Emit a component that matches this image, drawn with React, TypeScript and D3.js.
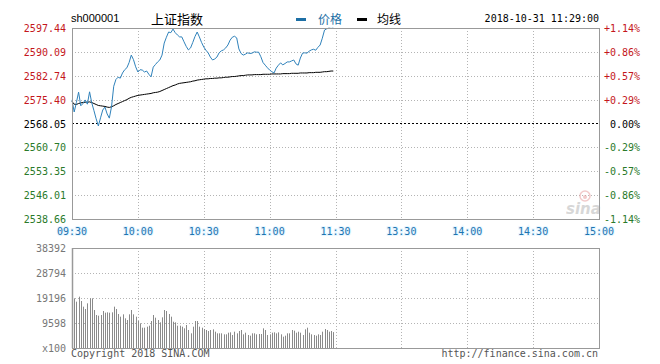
import React from 'react'
import * as d3 from 'd3'

// minute-by-minute data, 09:30 .. 11:29
const prices = [
	2575.3, 2571.6, 2574.5, 2577.7, 2573.5, 2574.2, 2575.3, 2574.0, 2577.8, 2574.4,
	2572.0, 2569.5, 2567.3, 2569.8, 2572.2, 2573.1, 2571.0, 2569.7, 2573.2, 2579.5,
	2581.6, 2582.3, 2582.0, 2583.6, 2584.6, 2585.2, 2586.8, 2589.1, 2587.7, 2585.5,
	2583.9, 2584.6, 2584.5, 2583.9, 2584.2, 2583.2, 2582.4, 2585.4, 2586.2, 2587.0,
	2587.6, 2589.1, 2592.8, 2594.6, 2596.2, 2596.0, 2597.1, 2596.0, 2595.3, 2594.7,
	2594.7, 2593.2, 2591.8, 2590.7, 2591.3, 2593.0, 2594.8, 2596.2, 2594.7, 2593.0,
	2591.6, 2590.6, 2589.8, 2588.5, 2587.6, 2587.9, 2588.5, 2589.8, 2590.4, 2590.7,
	2591.3, 2592.2, 2593.7, 2594.6, 2594.9, 2594.4, 2591.0, 2589.6, 2589.1, 2589.4,
	2589.8, 2589.6, 2589.7, 2590.1, 2590.0, 2590.0, 2588.6, 2586.8, 2586.0, 2585.2,
	2584.5, 2584.0, 2583.6, 2585.1, 2586.0, 2586.7, 2586.1, 2586.5, 2587.0, 2587.0,
	2587.3, 2587.6, 2586.4, 2586.0, 2588.2, 2589.7, 2589.8, 2589.7, 2590.3, 2590.7,
	2590.9, 2590.6, 2591.5, 2592.2, 2594.3, 2596.8, 2597.2, 2597.4, 2597.3, 2597.4,
]

const avgPrices = [
	2574.8, 2574.0, 2573.9, 2574.2, 2574.4, 2574.5, 2574.6, 2574.6, 2574.7, 2574.5,
	2574.2, 2573.9, 2573.6, 2573.5, 2573.4, 2573.3, 2573.1, 2573.0, 2573.2, 2573.5,
	2573.9, 2574.2, 2574.5, 2574.8, 2575.1, 2575.4, 2575.8, 2576.1, 2576.3, 2576.5,
	2576.7, 2576.8, 2576.9, 2577.0, 2577.1, 2577.2, 2577.3, 2577.5, 2577.6, 2577.7,
	2577.9, 2578.2, 2578.5, 2578.8, 2579.1, 2579.4, 2579.7, 2579.9, 2580.2, 2580.4,
	2580.5, 2580.6, 2580.7, 2580.8, 2580.9, 2581.1, 2581.2, 2581.4, 2581.5, 2581.6,
	2581.7, 2581.8, 2581.8, 2581.9, 2581.9, 2582.0, 2582.0, 2582.1, 2582.1, 2582.2,
	2582.3, 2582.3, 2582.4, 2582.5, 2582.5, 2582.6, 2582.7, 2582.8, 2582.8, 2582.9,
	2583.0, 2583.0, 2583.0, 2583.1, 2583.1, 2583.1, 2583.1, 2583.2, 2583.2, 2583.2,
	2583.2, 2583.3, 2583.3, 2583.3, 2583.3, 2583.3, 2583.4, 2583.4, 2583.4, 2583.4,
	2583.5, 2583.5, 2583.5, 2583.5, 2583.6, 2583.6, 2583.6, 2583.6, 2583.7, 2583.7,
	2583.7, 2583.8, 2583.8, 2583.8, 2583.9, 2584.0, 2584.0, 2584.1, 2584.2, 2584.2,
]

// volume, in units of 100 shares
const volumes = [
	21883, 19067, 17787, 19707, 18043, 15867, 14971, 17147, 19067, 19067,
	14587, 12667, 12411, 12667, 14203, 13563, 13691, 13563, 13691, 15867,
	14971, 13051, 12027, 12923, 11387, 10747, 12923, 14587, 12923, 12027,
	10363, 9467, 7803, 7803, 8187, 8571, 10363, 12667, 11643, 10747,
	9851, 11771, 14587, 14203, 13051, 12027, 10107, 9851, 8571, 8571,
	8187, 7547, 8827, 6907, 5627, 8187, 10363, 10363, 8187, 7803,
	7291, 6907, 6523, 6907, 7163, 6267, 5627, 5627, 5627, 5243,
	5243, 5883, 6011, 4987, 6267, 5627, 6523, 6907, 5243, 5883,
	4987, 4731, 5627, 5627, 5243, 5371, 5371, 7547, 6907, 4987,
	5243, 5883, 6011, 5627, 6011, 5243, 4347, 4731, 5627, 5627,
	6907, 6651, 5883, 6267, 5883, 4987, 7163, 7803, 5883, 5243,
	4987, 4731, 5243, 4987, 6267, 7291, 6907, 6267, 6523, 6100,
]

const prevClose = 2568.05
const priceTicks = [2597.44, 2590.09, 2582.74, 2575.40, 2568.05, 2560.70, 2553.35, 2546.01, 2538.66]
const pctTicks = ['+1.14%', '+0.86%', '+0.57%', '+0.29%', '0.00%', '-0.29%', '-0.57%', '-0.86%', '-1.14%']
const timeTicks = ['09:30', '10:00', '10:30', '11:00', '11:30', '13:30', '14:00', '14:30', '15:00']
const volTicks = [38392, 28794, 19196, 9598, 0]
const volTickLabels = ['38392', '28794', '19196', '9598', 'x100']

const mono = '"DejaVu Sans Mono", "Liberation Mono", monospace'
const gridColor = '#b4b4b4'
const frameColor = '#999999'

export default function App() {
	const left = 72
	const right = 599
	const top = 28
	const bottom = 219
	const vTop = 248
	const vBottom = 348

	const x = d3.scaleLinear().domain([0, 240]).range([left, right])
	const y = d3.scaleLinear().domain([2538.66, 2597.44]).range([bottom, top])
	const yv = d3.scaleLinear().domain([0, 38392]).range([vBottom, vTop])

	const priceLine = d3.line<number>()
		.x((_, i) => x(i))
		.y(d => y(d))
	const snap = (v: number) => Math.round(v) + 0.5

	return (
		<svg width={660} height={364} style={{ position: 'absolute', left: 0, top: 0, background: '#fff' }}>
			{/* header */}
			<text x={71} y={22} fontFamily='"Liberation Sans", Arial, sans-serif' fontSize={11} fill="#000">sh000001</text>
			<text x={151} y={24} fontFamily='"Noto Sans CJK SC", sans-serif' fontSize={13} fill="#000">上证指数</text>
			<rect x={296} y={18} width={10} height={3} fill="#1d6fa5" />
			<text x={318} y={24} fontFamily='"Noto Sans CJK SC", sans-serif' fontSize={12} fill="#1d6fa5">价格</text>
			<rect x={357} y={18} width={10} height={3} fill="#000" />
			<text x={377} y={24} fontFamily='"Noto Sans CJK SC", sans-serif' fontSize={12} fill="#000">均线</text>
			<text x={599} y={22} textAnchor="end" fontFamily={mono} fontSize={10} fill="#000">2018-10-31 11:29:00</text>

			{/* price grid */}
			{priceTicks.map((p, i) => (
				i > 0 && i < priceTicks.length - 1 && i !== 4 ? (
					<line key={'h' + i} x1={left} x2={right} y1={snap(y(p))} y2={snap(y(p))}
						stroke={gridColor} strokeDasharray="1,2" />
				) : null
			))}
			{timeTicks.map((_, i) => (
				i > 0 && i < timeTicks.length - 1 ? (
					<g key={'v' + i}>
						<line x1={snap(x(i * 30))} x2={snap(x(i * 30))} y1={top} y2={bottom}
							stroke={gridColor} strokeDasharray="1,2" />
						<line x1={snap(x(i * 30))} x2={snap(x(i * 30))} y1={vTop} y2={vBottom}
							stroke={gridColor} strokeDasharray="1,2" />
					</g>
				) : null
			))}
			<line x1={left} x2={right} y1={snap(y(prevClose))} y2={snap(y(prevClose))}
				stroke="#000" strokeDasharray="2,2" />

			{/* watermark */}
			<g opacity={0.55}>
				<circle cx={585} cy={196} r={5} fill="none" stroke="#e8a0a0" strokeWidth={1.5} />
				<circle cx={585} cy={197} r={2} fill="#e8a0a0" />
				<text x={566} y={214} fontFamily='"DejaVu Sans", sans-serif' fontStyle="italic" fontWeight="bold"
					fontSize={15} fill="#b8b8b8">sina</text>
			</g>

			{/* lines */}
			<path d={priceLine(avgPrices) || ''} fill="none" stroke="#000" strokeWidth={1} />
			<path d={priceLine(prices) || ''} fill="none" stroke="#2f82bb" strokeWidth={1} />

			<rect x={left + 0.5} y={top + 0.5} width={right - left} height={bottom - top}
				fill="none" stroke={frameColor} />

			{/* price labels */}
			{priceTicks.map((p, i) => (
				<text key={'pl' + i} x={66} y={y(p) + 4} textAnchor="end" fontFamily={mono} fontSize={10}
					fill={i < 4 ? '#c4161c' : i === 4 ? '#000' : '#2a7a2a'}>{p.toFixed(2)}</text>
			))}
			{pctTicks.map((t, i) => (
				<text key={'pc' + i} x={640} y={y(priceTicks[i]) + 4} textAnchor="end" fontFamily={mono} fontSize={10}
					fill={i < 4 ? '#c4161c' : i === 4 ? '#000' : '#2a7a2a'}>{t}</text>
			))}
			{timeTicks.map((t, i) => (
				<text key={'tl' + i} x={x(i * 30)} y={235} textAnchor="middle" fontFamily={mono} fontSize={10}
					fill="#1e74b0" stroke="#e6f6ff" strokeWidth={2} paintOrder="stroke">{t}</text>
			))}

			{/* volume */}
			{volTicks.slice(1, -1).map((v, i) => (
				<line key={'vh' + i} x1={left} x2={right} y1={snap(yv(v))} y2={snap(yv(v))}
					stroke={gridColor} strokeDasharray="1,2" />
			))}
			{volumes.map((v, i) => (
				<line key={'vb' + i} x1={snap(x(i))} x2={snap(x(i))} y1={vBottom} y2={yv(v)}
					stroke="#8a8a8a" strokeWidth={1} />
			))}
			<rect x={left + 0.5} y={vTop + 0.5} width={right - left} height={vBottom - vTop}
				fill="none" stroke={frameColor} />
			<line x1={left + 0.5} x2={left + 0.5} y1={vTop} y2={vBottom} stroke="#999" strokeWidth={1.5} />
			{volTicks.map((v, i) => (
				<text key={'vl' + i} x={66} y={yv(v) + 4} textAnchor="end" fontFamily={mono} fontSize={10}
					fill="#777">{volTickLabels[i]}</text>
			))}

			<text x={71} y={357} fontFamily={mono} fontSize={10} fill="#555">Copyright 2018 SINA.COM</text>
			<text x={598} y={357} textAnchor="end" fontFamily={mono} fontSize={10} fill="#555">http://finance.sina.com.cn</text>
		</svg>
	)
}
